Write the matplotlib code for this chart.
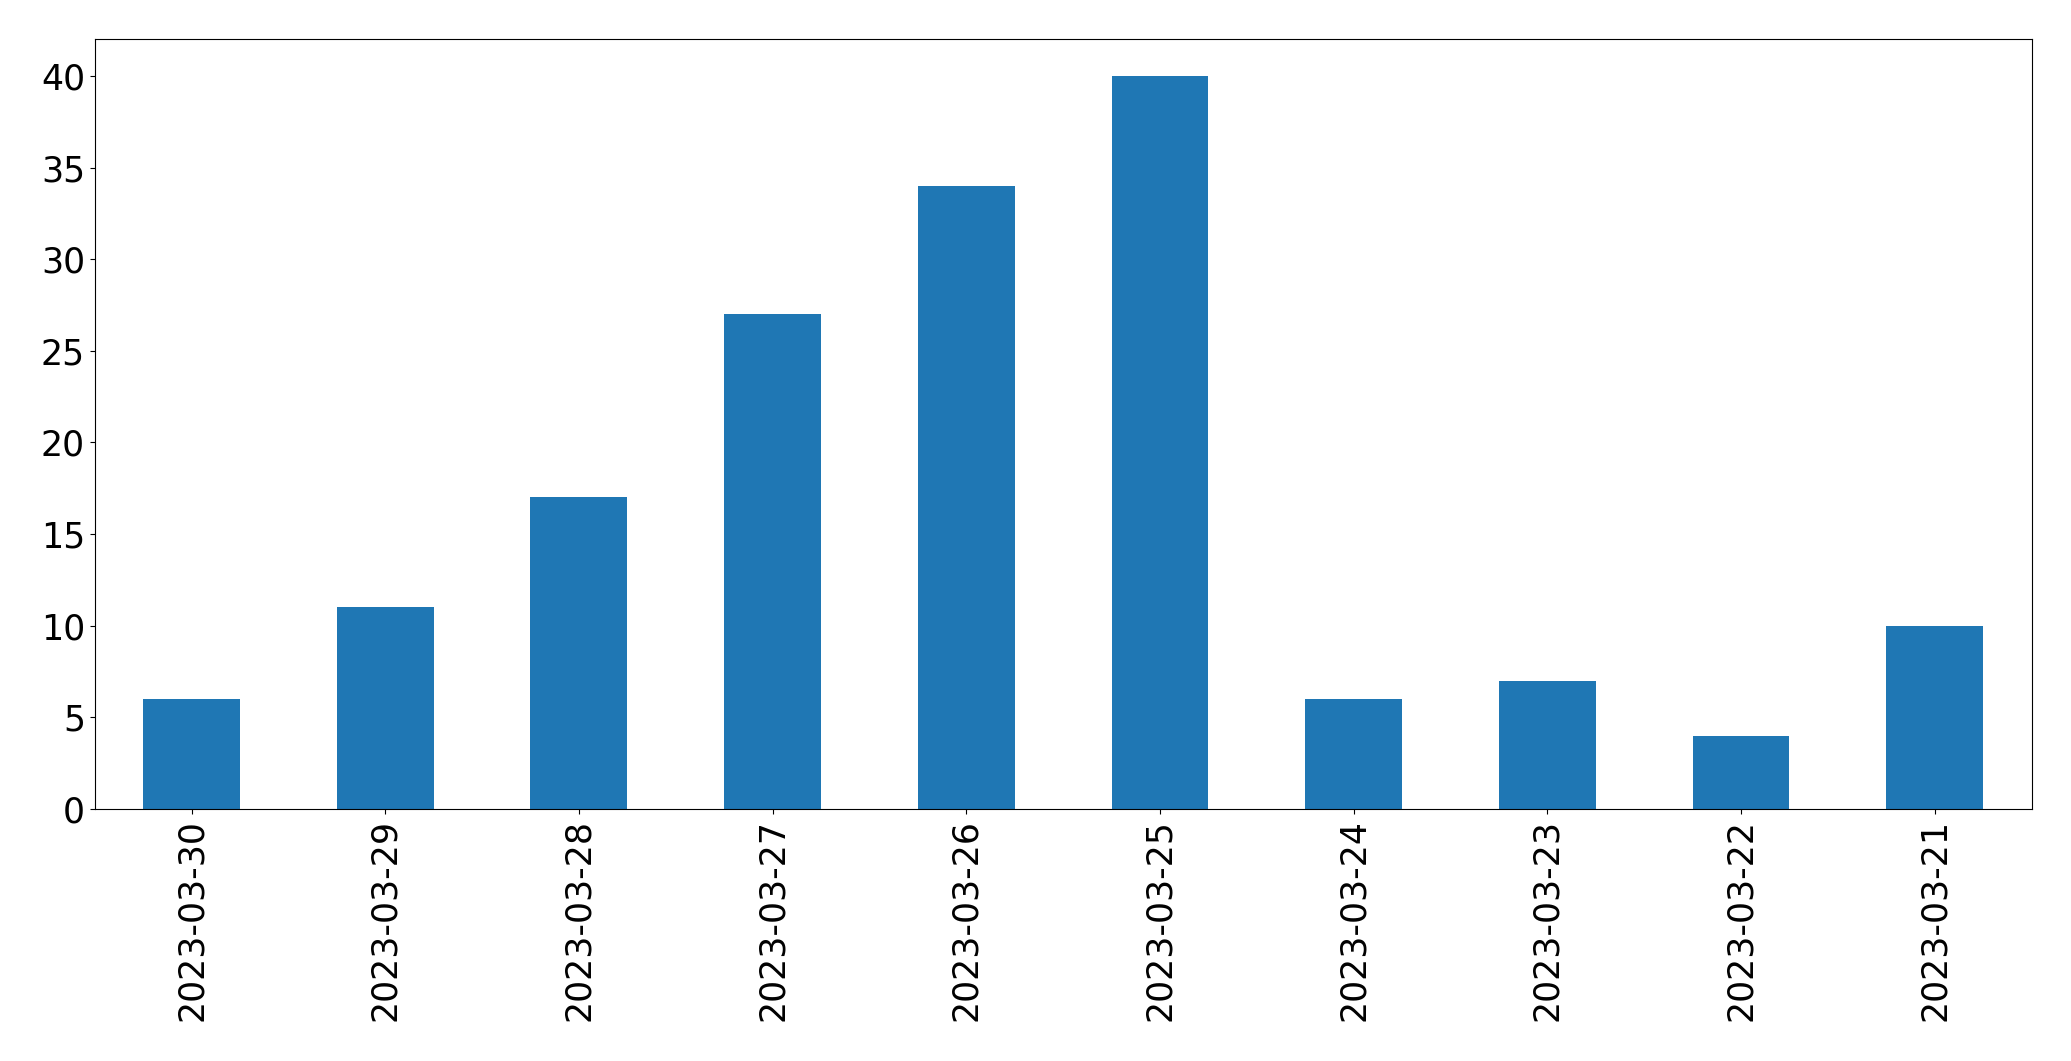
import pandas as pd
import matplotlib
matplotlib.use('Agg')
import matplotlib.pyplot as plt

dates = ['2023-03-30', '2023-03-29', '2023-03-28', '2023-03-27', '2023-03-26',
         '2023-03-25', '2023-03-24', '2023-03-23', '2023-03-22', '2023-03-21']
counts = [6, 11, 17, 27, 34, 40, 6, 7, 4, 10]

s = pd.Series(counts, index=dates)

fig = plt.figure(figsize=(20.71, 10.61), dpi=100)
ax = fig.add_axes([94.7 / 2071, 1 - 809 / 1061, (2031.5 - 94.7) / 2071, (809 - 39.3) / 1061])
s.plot(kind='bar', ax=ax, fontsize=25)

fig.savefig('out.png', dpi=100)
